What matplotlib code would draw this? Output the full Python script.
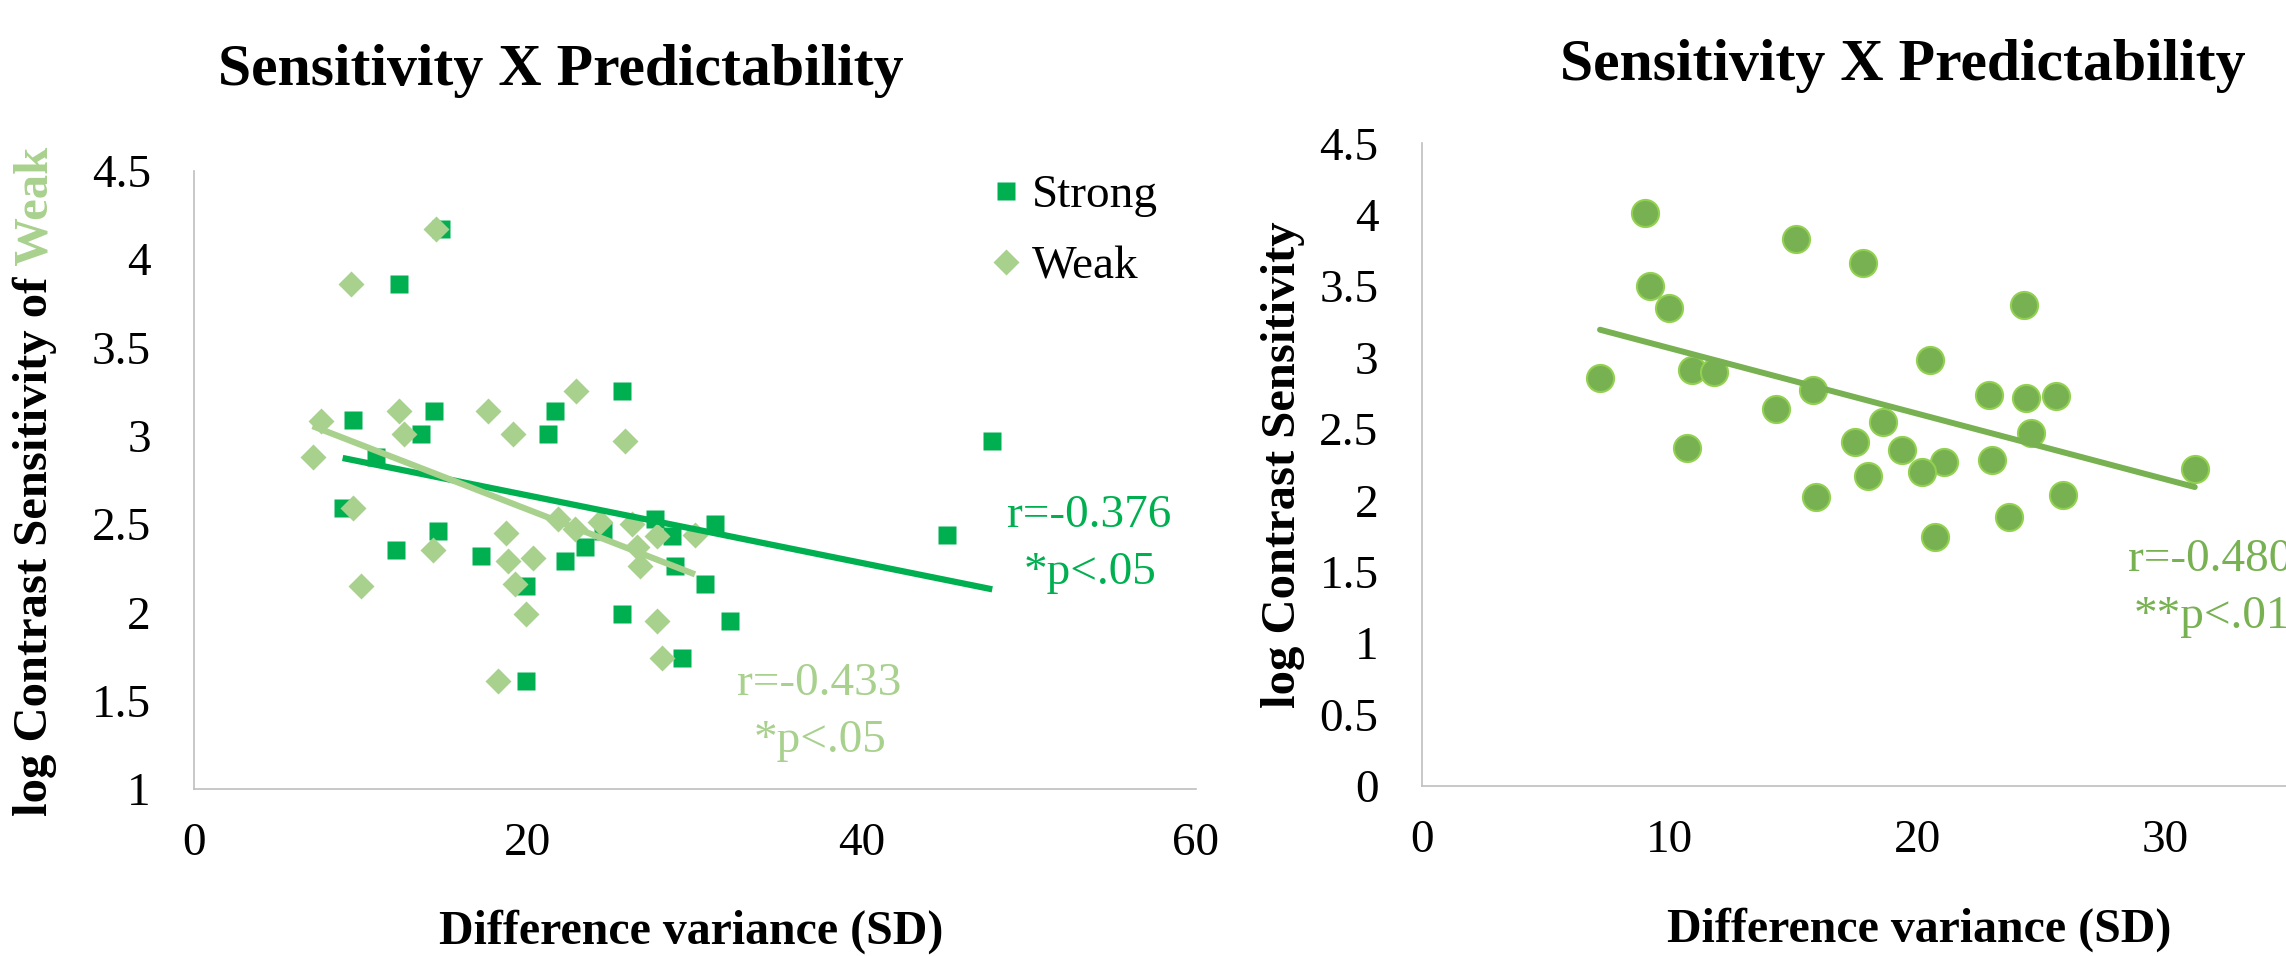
import numpy as np
import matplotlib
matplotlib.use('Agg')
import matplotlib.pyplot as plt

plt.rcParams['font.family'] = 'Liberation Serif'

# left panel: strong vs weak predictability
strong_sd = [14.8, 12.3, 9.5, 14.4, 13.6, 21.6, 21.2, 10.9, 8.9, 14.6, 12.1, 17.2, 22.2, 19.9,
             19.9, 25.6, 27.6, 31.2, 28.6, 23.4, 28.8, 30.6, 25.6, 32.1, 29.2, 47.8, 45.1, 24.5]
strong_cs = [4.17, 3.86, 3.09, 3.14, 3.01, 3.14, 3.01, 2.88, 2.59, 2.46, 2.35, 2.32, 2.29, 2.15,
             1.61, 3.25, 2.53, 2.50, 2.43, 2.37, 2.26, 2.16, 1.99, 1.95, 1.74, 2.97, 2.44, 2.46]
weak_sd = [14.5, 9.4, 7.6, 12.3, 12.6, 17.6, 19.1, 7.1, 22.9, 9.5, 14.3, 10.0, 18.7, 18.8, 20.3,
           19.2, 19.9, 18.2, 21.8, 22.8, 25.8, 24.3, 26.2, 27.7, 26.5, 26.7, 30.0, 27.7, 28.0]
weak_cs = [4.17, 3.86, 3.08, 3.14, 3.01, 3.14, 3.01, 2.88, 3.25, 2.59, 2.35, 2.15, 2.45, 2.29, 2.31,
           2.16, 1.99, 1.61, 2.53, 2.47, 2.97, 2.51, 2.50, 2.43, 2.37, 2.26, 2.44, 1.95, 1.74]

# right panel: all subjects
all_sd = [9.0, 15.1, 17.8, 9.2, 10.0, 7.2, 10.9, 11.8, 14.3, 15.8, 10.7, 15.9, 24.3, 20.5, 22.9,
          24.4, 25.6, 18.6, 17.5, 24.6, 19.4, 21.1, 20.2, 23.0, 18.0, 31.2, 25.9, 23.7, 20.7]
all_cs = [4.01, 3.83, 3.66, 3.50, 3.35, 2.86, 2.91, 2.90, 2.64, 2.77, 2.37, 2.02, 3.37, 2.98, 2.74,
          2.72, 2.73, 2.55, 2.41, 2.47, 2.35, 2.27, 2.20, 2.28, 2.17, 2.22, 2.04, 1.88, 1.74]

left_yticks = [1, 1.5, 2, 2.5, 3, 3.5, 4, 4.5]
left_xticks = [0, 20, 40, 60]
right_yticks = [0, 0.5, 1, 1.5, 2, 2.5, 3, 3.5, 4, 4.5]
right_xticks = [0, 10, 20, 30, 40]

STRONG = '#00B050'
WEAK = '#A9D18E'
POOLED = '#78B152'
POOLED_EDGE = '#92D050'
AXIS = '#BFBFBF'

W, H = 2286, 956


def fx(px):
    return px / W


def fy(py):
    return 1 - py / H


def style(ax, xlim, ylim, xticks, yticks):
    ax.set_xlim(*xlim)
    ax.set_ylim(*ylim)
    ax.set_xticks(xticks)
    ax.set_yticks(yticks)
    ax.set_yticklabels([f'{t:g}' for t in yticks])
    for s in ['top', 'right']:
        ax.spines[s].set_visible(False)
    for s in ['left', 'bottom']:
        ax.spines[s].set_color(AXIS)
        ax.spines[s].set_linewidth(1.2)
    ax.tick_params(length=0, labelsize=34)
    ax.tick_params(axis='y', pad=31)
    ax.tick_params(axis='x', pad=24)


def trend(ax, x, y, color, lw, cap):
    k, b = np.polyfit(x, y, 1)
    xs = np.array([min(x), max(x)])
    ax.plot(xs, k * xs + b, color=color, lw=lw, solid_capstyle=cap, zorder=4)


fig = plt.figure(figsize=(W / 100, H / 100), dpi=100)

ax1 = fig.add_axes([fx(194), fy(789), 1002 / W, 618.4 / H])
ax1.plot(strong_sd, strong_cs, 's', ms=13.5, color=STRONG, mec='none', label='Strong', zorder=2)
ax1.plot(weak_sd, weak_cs, 'D', ms=13, color=WEAK, mec='none', label='Weak', zorder=3)
trend(ax1, strong_sd, strong_cs, STRONG, 4.5, 'butt')
trend(ax1, weak_sd, weak_cs, WEAK, 4.5, 'butt')
style(ax1, (0, 60), (1, 4.5), left_xticks, left_yticks)
ax1.legend(loc='upper left', bbox_to_anchor=(fx(992), fy(174)), bbox_transform=fig.transFigure,
           frameon=False, fontsize=34, handlelength=0.6, handletextpad=0.25,
           labelspacing=0.6, borderpad=0, borderaxespad=0, numpoints=1)

ax2 = fig.add_axes([fx(1421.6), fy(786), 991.2 / W, 642.7 / H])
ax2.plot(all_sd, all_cs, 'o', ms=19.5, color=POOLED, mec=POOLED_EDGE, mew=1.5, zorder=2)
trend(ax2, all_sd, all_cs, POOLED, 4.3, 'round')
style(ax2, (0, 40), (0, 4.5), right_xticks, right_yticks)

# titles and axis titles
fig.text(fx(561), fy(85), 'Sensitivity X Predictability', ha='center', va='baseline',
         fontsize=43, fontweight='bold')
fig.text(fx(1903), fy(80), 'Sensitivity X Predictability', ha='center', va='baseline',
         fontsize=43, fontweight='bold')
fig.text(fx(691), fy(944), 'Difference variance (SD)', ha='center', va='baseline',
         fontsize=34.5, fontweight='bold')
fig.text(fx(1919), fy(942), 'Difference variance (SD)', ha='center', va='baseline',
         fontsize=34.5, fontweight='bold')
fig.text(fx(1295), fy(465), 'log Contrast Sensitivity', rotation=90, rotation_mode='anchor',
         ha='center', va='baseline', fontsize=35, fontweight='bold')

# left y title, last word in the weak colour
lab1 = fig.text(fx(47), fy(816), 'log Contrast Sensitivity of', rotation=90,
                rotation_mode='anchor', ha='left', va='baseline', fontsize=35, fontweight='bold')
fig.canvas.draw()
bb = lab1.get_window_extent()
fig.text(fx(47), bb.y1 / fig.bbox.height, ' Weak', rotation=90, rotation_mode='anchor',
         ha='left', va='baseline', fontsize=35, fontweight='bold', color=WEAK)

# correlation notes
fig.text(fx(1089), fy(527), 'r=-0.376', ha='center', va='baseline', fontsize=34, color=STRONG)
fig.text(fx(1090), fy(584), '*p<.05', ha='center', va='baseline', fontsize=34, color=STRONG)
fig.text(fx(819), fy(695), 'r=-0.433', ha='center', va='baseline', fontsize=34, color=WEAK)
fig.text(fx(820), fy(752), '*p<.05', ha='center', va='baseline', fontsize=34, color=WEAK)
fig.text(fx(2210), fy(571), 'r=-0.480', ha='center', va='baseline', fontsize=34, color=POOLED)
fig.text(fx(2212), fy(628), '**p<.01', ha='center', va='baseline', fontsize=34, color=POOLED)

fig.savefig('out.png', dpi=100)
